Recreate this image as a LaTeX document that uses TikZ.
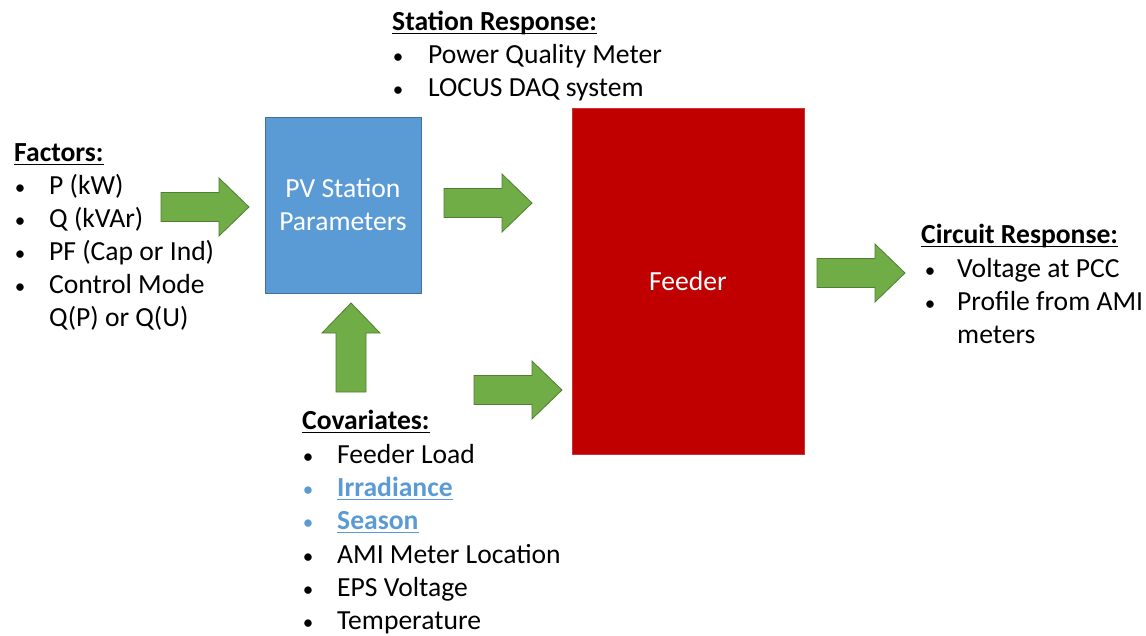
\documentclass[tikz,border=0pt]{standalone}
\usepackage{fontspec}
\setmainfont{Carlito}
\definecolor{arrowgreen}{HTML}{70AD47}
\definecolor{arrowedge}{HTML}{507E32}
\definecolor{pvblue}{HTML}{5B9BD5}
\definecolor{pvedge}{HTML}{41719C}
\definecolor{feederred}{HTML}{C00000}
\definecolor{linkblue}{HTML}{5B9BD5}
\newcommand\bodyfont{\fontsize{27.6}{33}\selectfont}
\tikzset{
  txt/.style={inner sep=0pt, anchor=base west, font=\bodyfont},
  head/.style={txt, font=\bodyfont\bfseries},
  bul/.style={inner sep=0pt, anchor=base, font=\fontsize{21}{33}\selectfont},
  ulline/.style={line width=1.6pt},
  blockarrow/.style={fill=arrowgreen, draw=arrowedge, line width=0.8pt},
  pvbox/.style={fill=pvblue, draw=pvedge, line width=1pt, text=white, align=center,
    minimum width=156pt, minimum height=176pt, inner sep=0pt, font=\bodyfont},
  feederbox/.style={fill=feederred, draw=feederred!80!white, line width=0.8pt, text=white,
    minimum width=232pt, minimum height=346pt, inner sep=0pt, font=\bodyfont},
}
% right-pointing block arrow with its tip at (#1,#2)
\newcommand\rightblock[2]{%
  \filldraw[blockarrow, shift={(#1,#2)}] (0,0) -- (-30,-29) -- (-30,-14.5) -- (-88,-14.5)
    -- (-88,14.5) -- (-30,14.5) -- (-30,29) -- cycle;}
% underline below a text node
\newcommand\underrule[2][black]{%
  \draw[ulline, #1] ([yshift=-3.5pt]#2.base west) -- ([yshift=-3.5pt]#2.base east);}
\begin{document}
\begin{tikzpicture}[x=1pt, y=-1pt]
\useasboundingbox (0,0) rectangle (1146,635);

% process boxes
\node[pvbox] (pv) at (343,205) {PV Station\\Parameters};
\node[feederbox] (feeder) at (688,281) {Feeder};

% block arrows
\rightblock{249}{207}
\rightblock{532}{203}
\rightblock{562}{390}
\rightblock{905}{273}
\filldraw[blockarrow] (351,303) -- (380,333) -- (366,333) -- (366,392)
  -- (336,392) -- (336,333) -- (322,333) -- cycle;

% Factors
\node[head] (fh) at (14,161) {Factors:};
\underrule{fh}
\foreach \y/\t [count=\i] in {194/{P (kW)}, 227/{Q (kVAr)}, 260/{PF (Cap or Ind)}, 293/{Control Mode}} {
  \node[bul] (fb\i) at (20,\y) {\textbullet};
  \node[txt] (ft\i) at (49,\y) {\t};
}
\node[txt] (ft5) at (49,326) {Q(P) or Q(U)};

% Station response
\node[head] (sh) at (392,30) {Station Response:};
\underrule{sh}
\node[bul] (sb1) at (398,63) {\textbullet};
\node[txt] (st1) at (428,63) {Power Quality Meter};
\node[bul] (sb2) at (398,96) {\textbullet};
\node[txt] (st2) at (428,96) {LOCUS DAQ system};

% Covariates
\node[head] (ch) at (302,429) {Covariates:};
\underrule{ch}
\node[bul] (cb1) at (308,463) {\textbullet};
\node[txt] (ct1) at (337,463) {Feeder Load};
\node[bul, text=linkblue] (cb2) at (308,496) {\textbullet};
\node[head, text=linkblue] (ct2) at (337,496) {Irradiance};
\underrule[linkblue]{ct2}
\node[bul, text=linkblue] (cb3) at (308,529) {\textbullet};
\node[head, text=linkblue] (ct3) at (337,529) {Season};
\underrule[linkblue]{ct3}
\node[bul] (cb4) at (308,563) {\textbullet};
\node[txt] (ct4) at (337,563) {AMI Meter Location};
\node[bul] (cb5) at (308,596) {\textbullet};
\node[txt] (ct5) at (337,596) {EPS Voltage};
\node[bul] (cb6) at (308,629) {\textbullet};
\node[txt] (ct6) at (337,629) {Temperature};

% Circuit response
\node[head] (rh) at (921,243) {Circuit Response:};
\underrule{rh}
\node[bul] (rb1) at (930,277) {\textbullet};
\node[txt] (rt1) at (957,277) {Voltage at PCC};
\node[bul] (rb2) at (930,310) {\textbullet};
\node[txt] (rt2) at (957,310) {Profile from AMI};
\node[txt] (rt3) at (957,343) {meters};
\end{tikzpicture}
\end{document}
